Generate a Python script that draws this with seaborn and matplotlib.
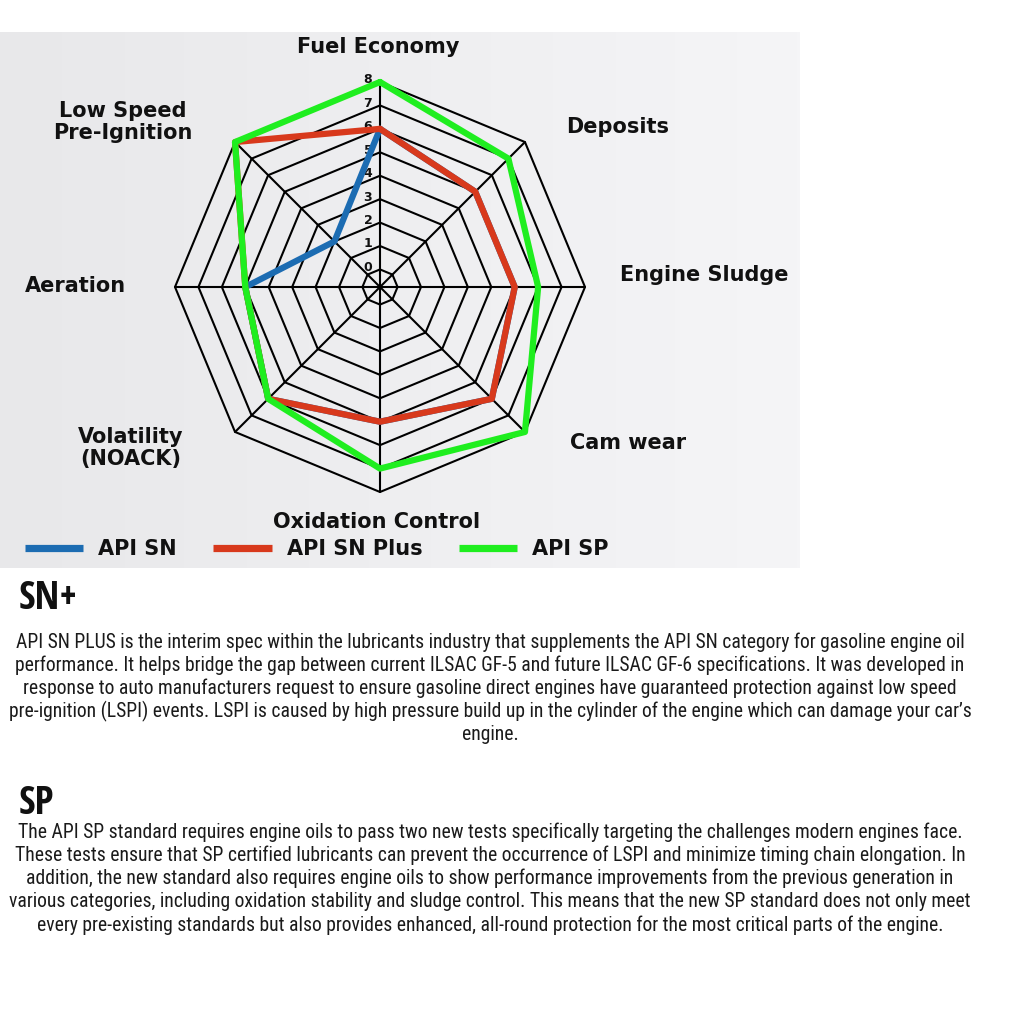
import os
import numpy as np
import pandas as pd
import matplotlib
matplotlib.use("Agg")
import matplotlib.pyplot as plt
import matplotlib.transforms as mtrans
from matplotlib.colors import LinearSegmentedColormap
from matplotlib import font_manager
import seaborn as sns

# chart data
categories = ["Fuel Economy", "Deposits", "Engine Sludge", "Cam wear",
              "Oxidation Control", "Volatility\n(NOACK)", "Aeration",
              "Low Speed\nPre-Ignition"]
api_sn = [6, 5, 5, 6, 5, 6, 5, 2]
api_sn_plus = [6, 5, 5, 6, 5, 6, 5, 8]
api_sp = [8, 7, 6, 8, 7, 6, 5, 8]
series_names = ["API SN", "API SN Plus", "API SP"]
series_colors = ["#1c6cb2", "#d8391c", "#1fee1f"]
rings = list(range(0, 9))

para1 = [
    "API SN PLUS is the interim spec within the lubricants industry that supplements the API SN category for gasoline engine oil",
    "performance. It helps bridge the gap between current ILSAC GF-5 and future ILSAC GF-6 specifications. It was developed in",
    "response to auto manufacturers request to ensure gasoline direct engines have guaranteed protection against low speed",
    "pre-ignition (LSPI) events. LSPI is caused by high pressure build up in the cylinder of the engine which can damage your car\u2019s",
    "engine.",
]
para2 = [
    "The API SP standard requires engine oils to pass two new tests specifically targeting the challenges modern engines face.",
    "These tests ensure that SP certified lubricants can prevent the occurrence of LSPI and minimize timing chain elongation. In",
    "addition, the new standard also requires engine oils to show performance improvements from the previous generation in",
    "various categories, including oxidation stability and sludge control. This means that the new SP standard does not only meet",
    "every pre-existing standards but also provides enhanced, all-round protection for the most critical parts of the engine.",
]

# label centres in pixels (layout)
label_px = [(378, 47), (618, 127), (704, 275), (628, 443),
            (377, 522), (131, 448), (75, 286), (123, 122)]

sns.set_style("white")
plt.rcParams["font.family"] = ["DejaVu Sans"]


def pick_font(prefixes, fallback):
    files = [f.fname for f in font_manager.fontManager.ttflist]
    for pre in prefixes:
        for fn in files:
            if os.path.basename(fn).lower().startswith(pre.lower()):
                return font_manager.FontProperties(fname=fn)
    return font_manager.FontProperties(family=fallback[0], weight=fallback[1])


body_fp = pick_font(["RobotoCondensed-Regular", "OpenSans-Regular"],
                    ("Open Sans", "normal"))
head_fp = pick_font(["NotoSans-ExtraCondensedBlack", "NotoSans-ExtraCondensedBold",
                     "OpenSans-CondBold", "DejaVuSansCondensed-Bold"],
                    ("DejaVu Sans", "bold"))

W = H = 1018
fig = plt.figure(figsize=(W / 100, H / 100), dpi=100)
fig.patch.set_facecolor("white")

# light grey chart panel
bg = fig.add_axes([0, 1 - 568 / H, 800 / W, 536 / H], zorder=-1)
bg.imshow(np.linspace(0, 1, 256)[None, :], aspect="auto",
          cmap=LinearSegmentedColormap.from_list("bg", ["#e8e8ea", "#f5f5f7"]))
bg.axis("off")

# radar
ax = fig.add_axes([175 / W, 1 - 492 / H, 410 / W, 410 / H], projection="polar")
ax.set_theta_zero_location("N")
ax.set_theta_direction(-1)
ax.set_ylim(-0.75, 8)
ax.set_axis_off()

theta = np.linspace(0, 2 * np.pi, len(categories), endpoint=False)
closed = list(theta) + [2 * np.pi]
for v in rings:
    ax.plot(closed, [v] * len(closed), color="black", lw=1.5, zorder=1, clip_on=False)
for th in theta:
    ax.plot([th, th], [-0.75, 8], color="black", lw=1.5, zorder=1, clip_on=False)

num_tr = mtrans.offset_copy(ax.transData, fig=fig, x=-12, y=2, units="dots")
for v in rings:
    ax.text(0, v, str(v), transform=num_tr, ha="center", va="center",
            fontsize=9, fontweight="bold", color="#111111", zorder=2)

rows = []
for name, vals in zip(series_names, [api_sn, api_sn_plus, api_sp]):
    for th, v in zip(closed, vals + vals[:1]):
        rows.append({"theta": th, "value": v, "series": name})
df = pd.DataFrame(rows)
sns.lineplot(data=df, x="theta", y="value", hue="series", hue_order=series_names,
             palette=series_colors, estimator=None, sort=False, lw=4.5, ax=ax,
             legend=True, zorder=3)
for ln in ax.lines:
    ln.set_clip_on(False)

handles, labels = ax.get_legend_handles_labels()
if ax.get_legend() is not None:
    ax.get_legend().remove()
leg = fig.legend(handles, labels, loc="center left",
                 bbox_to_anchor=(25 / W, 1 - 549 / H), ncol=3, frameon=False,
                 prop={"size": 15, "weight": "bold"}, handlelength=2.8,
                 handletextpad=0.72, columnspacing=1.75, borderpad=0,
                 borderaxespad=0)
for h in leg.legend_handles:
    h.set_linewidth(5.2)
    h.set_solid_capstyle("butt")
for t in leg.get_texts():
    t.set_color("#111111")

for lab, (px, py) in zip(categories, label_px):
    fig.text(px / W, 1 - py / H, lab, ha="center", va="center",
             fontsize=15, fontweight="bold", color="#111111", linespacing=1.1)

# text block below the chart
fig.canvas.draw()
renderer = fig.canvas.get_renderer()
probe = fig.text(0, 0, para1[3], fontproperties=body_fp, fontsize=12)
body_size = min(14.5, 12 * 964 / probe.get_window_extent(renderer).width)
probe.remove()
probe = fig.text(0, 0, "SN+", fontproperties=head_fp, fontsize=30)
head_size = min(30, 30 * 59 / probe.get_window_extent(renderer).width)
probe.remove()

fig.text(19 / W, 1 - 609 / H, "SN+", fontproperties=head_fp, fontsize=head_size,
         ha="left", va="baseline", color="#111111")
fig.text(19 / W, 1 - 814 / H, "SP", fontproperties=head_fp, fontsize=head_size,
         ha="left", va="baseline", color="#111111")

for i, line in enumerate(para1):
    fig.text(490 / W, 1 - (642 + 23 * i) / H, line, ha="center", va="center",
             fontproperties=body_fp, fontsize=body_size, color="#1a1a1a")
for i, line in enumerate(para2):
    fig.text(490 / W, 1 - (832 + 23.3 * i) / H, line, ha="center", va="center",
             fontproperties=body_fp, fontsize=body_size, color="#1a1a1a")

fig.savefig("out.png", dpi=100)
